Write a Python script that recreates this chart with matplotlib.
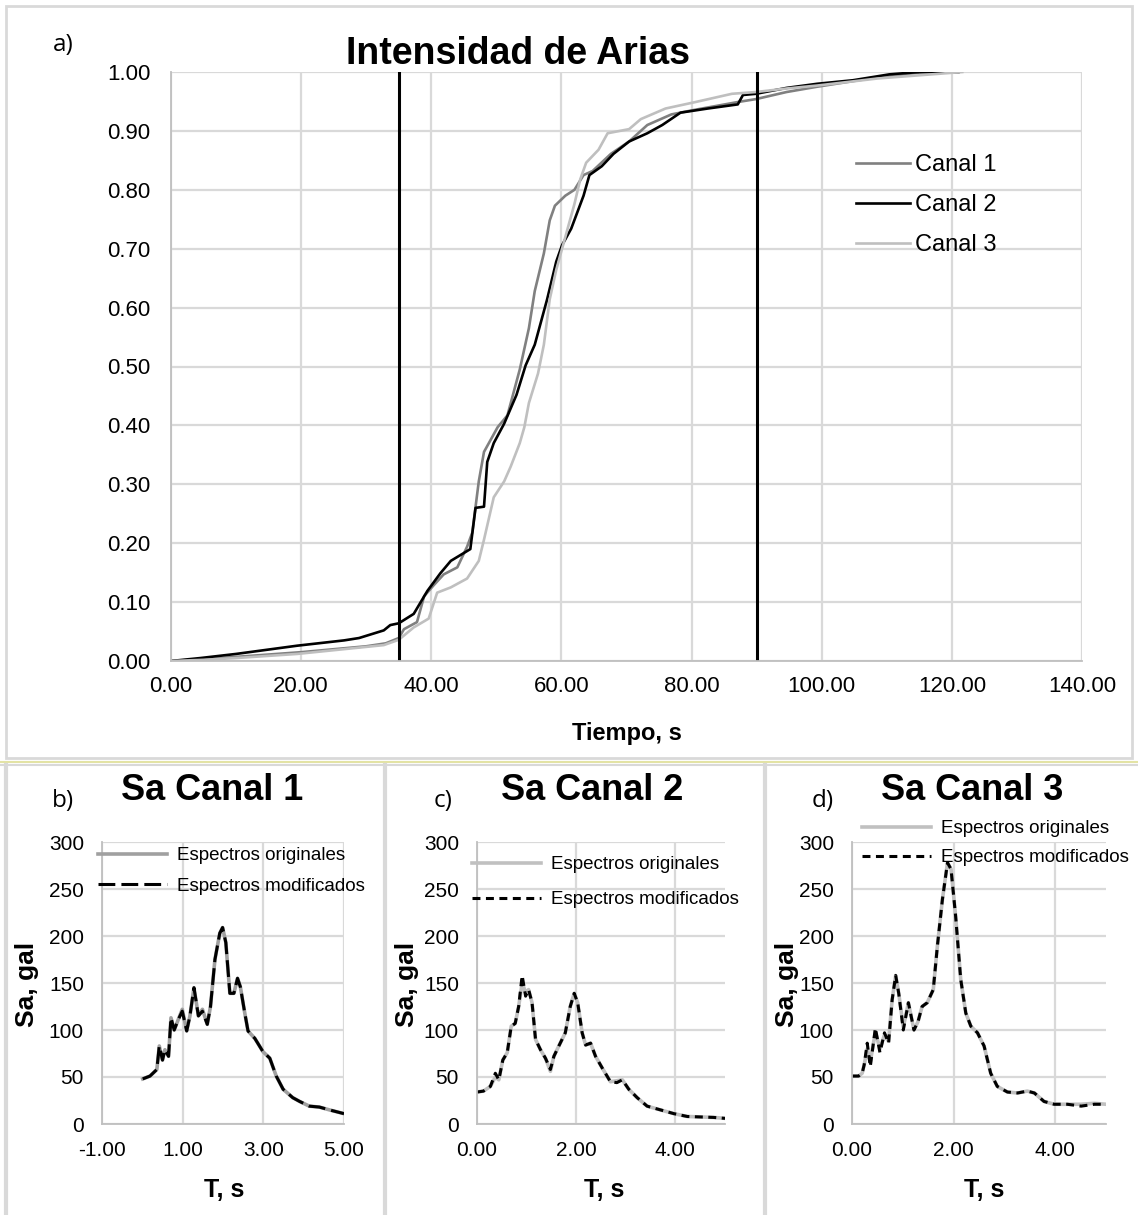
import matplotlib

matplotlib.use("Agg")
import matplotlib.pyplot as plt
from matplotlib.lines import Line2D
from matplotlib.patches import Rectangle

plt.rcParams["font.family"] = ["Liberation Sans", "DejaVu Sans"]
plt.rcParams["axes.unicode_minus"] = False

# ---- Intensidad de Arias (normalised), t in s ----
t_c1 = [0, 5, 10, 20, 30, 33, 35, 35.8, 37.8, 38.9, 40.4, 41.9, 44, 45.5, 46.3,
        47.3, 48.1, 50.2, 51.7, 53.6, 55, 55.9, 57.3, 58.2, 59, 60.6, 62, 63.4,
        64.8, 67.6, 70.4, 73.2, 76.9, 80.6, 87.1, 89.9, 94.6, 99.3, 108.6, 115, 121]
ia_c1 = [0, 0.003, 0.007, 0.015, 0.025, 0.03, 0.039, 0.054, 0.066, 0.11, 0.129,
         0.147, 0.159, 0.194, 0.218, 0.305, 0.355, 0.397, 0.417, 0.495, 0.565,
         0.628, 0.692, 0.748, 0.773, 0.79, 0.80, 0.825, 0.832, 0.861, 0.882, 0.91,
         0.928, 0.936, 0.949, 0.954, 0.966, 0.975, 0.991, 0.999, 1.0]

t_c2 = [0, 4.5, 10, 19.4, 26.6, 28.9, 32.7, 33.7, 35, 37.3, 39.4, 41.4, 43, 46,
        46.8, 48.1, 48.6, 49.6, 51.2, 53.1, 54.5, 55.9, 57.8, 59.2, 60.1, 61.5,
        63.4, 64.3, 66.2, 68, 70.4, 73.2, 75.5, 78.3, 82.5, 87.1, 87.9, 89.9,
        94.6, 99.3, 104.8, 110.4, 115, 121]
ia_c2 = [0, 0.005, 0.012, 0.026, 0.035, 0.039, 0.052, 0.061, 0.064, 0.080, 0.119,
         0.149, 0.170, 0.19, 0.26, 0.262, 0.338, 0.37, 0.403, 0.452, 0.502, 0.537,
         0.614, 0.678, 0.706, 0.734, 0.79, 0.825, 0.84, 0.861, 0.882, 0.896, 0.91,
         0.931, 0.938, 0.945, 0.961, 0.963, 0.973, 0.98, 0.986, 0.996, 1.0, 1.0]

t_c3 = [0, 5, 10, 19.4, 32.7, 35, 37.3, 39.6, 40.9, 43, 45.5, 47.3, 48.1, 49.6,
        51.2, 52.2, 53.6, 54.3, 55, 56.4, 57.3, 58.2, 59.2, 60.6, 62, 62.9, 63.8,
        65.7, 67.1, 70.4, 72.2, 76, 80.6, 86.2, 89.9, 94.6, 99.3, 108.6, 121.6]
ia_c3 = [0, 0.002, 0.005, 0.012, 0.027, 0.036, 0.057, 0.072, 0.116, 0.125, 0.14,
         0.17, 0.206, 0.278, 0.305, 0.33, 0.37, 0.397, 0.438, 0.488, 0.537, 0.614,
         0.664, 0.72, 0.776, 0.818, 0.846, 0.868, 0.896, 0.903, 0.920, 0.938,
         0.949, 0.963, 0.966, 0.972, 0.977, 0.989, 1.0]

limits = [35, 90]  # 5% - 95% marks

# ---- spectra (T in s, Sa in gal) ----
T_b = [0.01, 0.19, 0.36, 0.42, 0.5, 0.56, 0.65, 0.71, 0.79, 0.89, 0.99, 1.1, 1.18,
       1.28, 1.39, 1.49, 1.61, 1.69, 1.8, 1.92, 1.99, 2.07, 2.17, 2.27, 2.36,
       2.43, 2.54, 2.62, 2.79, 2.99, 3.16, 3.32, 3.49, 3.73, 3.9, 4.14, 4.39,
       4.64, 5.0]
sa_b_orig = [48, 51, 58, 83, 68, 79, 72, 113, 100, 111, 122, 99, 115, 145, 115,
             122, 106, 125, 175, 203, 209, 193, 139, 139, 155, 146, 118, 99, 91,
             77, 70, 51, 37, 28, 24, 19, 18, 15, 11]
sa_b_mod = [48, 51, 58, 83, 68, 79, 72, 113, 100, 111, 120, 99, 115, 145, 115,
            120, 106, 125, 175, 203, 209, 193, 139, 139, 155, 146, 118, 99, 91,
            77, 70, 51, 37, 28, 24, 19, 18, 15, 11]

T_c = [0, 0.13, 0.27, 0.37, 0.44, 0.52, 0.61, 0.69, 0.77, 0.84, 0.91, 0.98, 1.04,
       1.11, 1.18, 1.28, 1.38, 1.48, 1.55, 1.65, 1.78, 1.88, 1.96, 2.03, 2.12,
       2.19, 2.29, 2.39, 2.52, 2.69, 2.82, 2.93, 3.06, 3.23, 3.43, 3.7, 3.97,
       4.24, 4.77, 5.0]
sa_c_orig = [34, 35, 40, 50, 47, 68, 76, 104, 107, 125, 150, 140, 143, 129, 90,
             79, 70, 56, 72, 83, 97, 125, 139, 129, 97, 84, 86, 72, 60, 45, 46, 47,
             37, 28, 19, 15, 11, 8, 7, 6]
sa_c_mod = [34, 35, 40, 54, 47, 68, 76, 104, 107, 125, 158, 136, 143, 129, 90,
            79, 70, 58, 72, 83, 97, 125, 139, 129, 97, 84, 86, 72, 60, 45, 44, 47,
            37, 28, 19, 15, 11, 8, 7, 6]

T_d = [0, 0.13, 0.2, 0.24, 0.3, 0.36, 0.46, 0.55, 0.64, 0.72, 0.79, 0.86, 0.92,
       1.01, 1.11, 1.22, 1.3, 1.38, 1.48, 1.6, 1.68, 1.78, 1.88, 1.95, 2.04, 2.14,
       2.24, 2.34, 2.47, 2.6, 2.73, 2.86, 3.06, 3.26, 3.45, 3.59, 3.78, 3.98,
       4.24, 4.51, 4.77, 5.0]
sa_d_orig = [51, 51, 54, 63, 80, 66, 98, 80, 95, 88, 132, 158, 139, 103, 129, 100,
             109, 125, 129, 143, 189, 239, 278, 271, 221, 154, 118, 104, 97, 83,
             54, 40, 34, 33, 35, 33, 24, 21, 21, 21, 22, 21]
sa_d_mod = [51, 51, 54, 63, 86, 61, 102, 76, 97, 86, 132, 158, 139, 100, 129, 100,
            109, 125, 129, 143, 189, 239, 278, 271, 221, 154, 118, 104, 97, 83,
            54, 40, 34, 33, 35, 33, 24, 21, 21, 19, 21, 21]

W, H = 1138, 1215
GRID = "#d9d9d9"


def fx(px):
    return px / W


def fy(py):
    return 1 - py / H


def axes_px(fig, left, top, right, bottom):
    return fig.add_axes([fx(left), fy(bottom), fx(right - left), (bottom - top) / H])


def style_axes(ax, tick_size, xpad, ypad):
    for side in ("top", "right"):
        ax.spines[side].set_visible(False)
    for side in ("left", "bottom"):
        ax.spines[side].set_color("#bfbfbf")
        ax.spines[side].set_linewidth(1.3)
    ax.grid(True, color=GRID, linewidth=1.6)
    ax.set_axisbelow(True)
    ax.tick_params(length=0, labelsize=tick_size)
    ax.tick_params(axis="x", pad=xpad)
    ax.tick_params(axis="y", pad=ypad)


fig = plt.figure(figsize=(W / 100, H / 100), dpi=100)

# frames
fig.patches.append(Rectangle((fx(6), fy(758)), fx(1126), (752) / H, transform=fig.transFigure,
                             fill=False, edgecolor=GRID, linewidth=2))
fig.add_artist(Line2D([0, 1], [fy(762), fy(762)], color="#e3e3a5", linewidth=1.5))
fig.add_artist(Line2D([0, 1], [fy(765), fy(765)], color=GRID, linewidth=1.5))
for xs in (6, 385, 765):
    fig.add_artist(Line2D([fx(xs), fx(xs)], [0, fy(765)], color=GRID, linewidth=3))

# ---- a) Intensidad de Arias ----
ax = axes_px(fig, 171, 72, 1082, 661)
ax.plot(t_c1, ia_c1, color="#808080", linewidth=1.9, label="Canal 1")
ax.plot(t_c2, ia_c2, color="#000000", linewidth=1.9, label="Canal 2")
ax.plot(t_c3, ia_c3, color="#bfbfbf", linewidth=1.9, label="Canal 3")
for lim in limits:
    ax.axvline(lim, color="black", linewidth=2.2)
ax.set_xlim(0, 140)
ax.set_ylim(0, 1)
ax.set_xticks(range(0, 141, 20))
ax.set_yticks([i / 10 for i in range(11)])
ax.xaxis.set_major_formatter("{x:.2f}")
ax.yaxis.set_major_formatter("{x:.2f}")
style_axes(ax, 16, 11, 15)
ax.set_xlabel("Tiempo, s", fontsize=17, fontweight="bold", labelpad=18)
ax.legend(loc="upper left", bbox_to_anchor=(fx(856), fy(154)), bbox_transform=fig.transFigure,
          frameon=False, fontsize=17, handlelength=2.3, handletextpad=0.2,
          labelspacing=0.77, borderpad=0, borderaxespad=0)
fig.text(fx(518), fy(64), "Intensidad de Arias", fontsize=27, fontweight="bold",
         ha="center", va="baseline")
fig.text(fx(63), fy(45), "a)", fontsize=17.5, family="Open Sans", ha="center", va="center")

# ---- b), c), d) spectra ----
panels = [
    ("b)", "Sa Canal 1", T_b, sa_b_orig, sa_b_mod, (102, 344), (-1, 5), [-1, 1, 3, 5],
     "#a0a0a0", (5.5, 2.0), (98, 847), 0.72, 0),
    ("c)", "Sa Canal 2", T_c, sa_c_orig, sa_c_mod, (477, 725), (0, 5), [0, 2, 4],
     "#c0c0c0", (2.6, 1.8), (472, 856), 0.95, 380),
    ("d)", "Sa Canal 3", T_d, sa_d_orig, sa_d_mod, (852, 1106), (0, 5), [0, 2, 4],
     "#c0c0c0", (2.6, 1.8), (862, 820), 0.65, 760),
]

for tag, title, T, sa_o, sa_m, (x0, x1), xlim, xt, gcol, dash, leg_xy, lsp, off in panels:
    ax = axes_px(fig, x0, 842, x1, 1124)
    ax.plot(T, sa_o, color=gcol, linewidth=2.6, label="Espectros originales")
    ax.plot(T, sa_m, color="black", linewidth=2.2, dashes=dash, label="Espectros modificados")
    ax.set_xlim(*xlim)
    ax.set_ylim(0, 300)
    ax.set_xticks(xt)
    ax.set_yticks(range(0, 301, 50))
    ax.xaxis.set_major_formatter("{x:.2f}")
    style_axes(ax, 15, 12, 13)
    ax.legend(loc="upper left", bbox_to_anchor=(fx(leg_xy[0]), fy(leg_xy[1])),
              bbox_transform=fig.transFigure, frameon=False, fontsize=13.5,
              handlelength=3.7, handletextpad=0.5, labelspacing=lsp, borderpad=0,
              borderaxespad=0)
    fig.text(fx(off + 212), fy(791), title, fontsize=26, fontweight="bold",
             ha="center", va="center")
    fig.text(fx(off + 63), fy(801), tag, fontsize=17.5, family="Open Sans",
             ha="center", va="center")
    fig.text(fx(off + 27), fy(984), "Sa, gal", fontsize=19, fontweight="bold",
             rotation=90, ha="center", va="center")
    fig.text(fx(off + 224), fy(1190), "T, s", fontsize=18, fontweight="bold",
             ha="center", va="center")

fig.savefig("out.png", dpi=100)
